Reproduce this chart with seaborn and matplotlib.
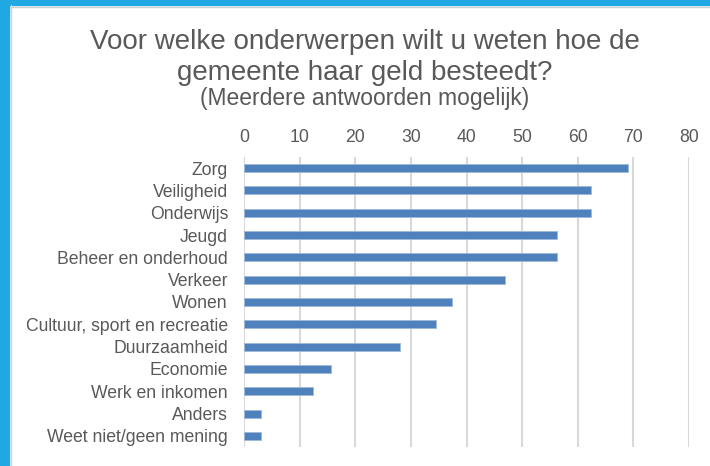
import pandas as pd
import seaborn as sns
import matplotlib.pyplot as plt
from matplotlib.patches import Rectangle
from matplotlib.lines import Line2D

categories = ['Zorg', 'Veiligheid', 'Onderwijs', 'Jeugd', 'Beheer en onderhoud',
              'Verkeer', 'Wonen', 'Cultuur, sport en recreatie', 'Duurzaamheid',
              'Economie', 'Werk en inkomen', 'Anders', 'Weet niet/geen mening']
values = [69, 62.4, 62.4, 56.3, 56.3, 47, 37.4, 34.5, 28.1, 15.6, 12.4, 3.1, 3.1]
ticks = [0, 10, 20, 30, 40, 50, 60, 70, 80]

df = pd.DataFrame({'onderwerp': categories, 'aantal': values})

sns.set_style('white')
plt.rcParams['font.family'] = ['Liberation Sans', 'DejaVu Sans']

fig = plt.figure(figsize=(7.1, 4.66), dpi=100)
ax = fig.add_axes([244 / 710, 1 - 447 / 466, 445 / 710, 290 / 466])

sns.barplot(data=df, x='aantal', y='onderwerp', orient='h', color='#4F81BD',
            saturation=1, width=0.36, edgecolor='#9DB8DA', linewidth=0.6, ax=ax)

ax.set_xlim(0, 80)
ax.set_xticks(ticks)
ax.xaxis.tick_top()
ax.tick_params(axis='both', length=0, colors='#595959', labelsize=12.7)
ax.tick_params(axis='x', pad=8)
ax.tick_params(axis='y', pad=11.5)
ax.set_xlabel('')
ax.set_ylabel('')
ax.grid(axis='x', color='#D9D9D9', linewidth=1.5)
ax.set_axisbelow(True)
for s in ax.spines.values():
    s.set_visible(False)

# frame decoration like the slide
fig.patches.append(Rectangle((0, 0), 9 / 710, 1, transform=fig.transFigure,
                             color='#1FA8E1', zorder=0))
fig.patches.append(Rectangle((0, 1 - 5 / 466), 1, 5 / 466, transform=fig.transFigure,
                             color='#1FA8E1', zorder=0))
fig.lines.append(Line2D([10.5 / 710, 10.5 / 710], [0, 1 - 5 / 466], transform=fig.transFigure,
                        color='#D0D0D0', linewidth=1))
fig.lines.append(Line2D([10 / 710, 1], [1 - 6.5 / 466, 1 - 6.5 / 466], transform=fig.transFigure,
                        color='#D0D0D0', linewidth=1))

fig.text(0.514, 1 - 42 / 466, 'Voor welke onderwerpen wilt u weten hoe de',
         ha='center', va='center', fontsize=20, color='#595959')
fig.text(0.514, 1 - 73 / 466, 'gemeente haar geld besteedt?',
         ha='center', va='center', fontsize=20, color='#595959')
fig.text(0.514, 1 - 99 / 466, '(Meerdere antwoorden mogelijk)',
         ha='center', va='center', fontsize=16.5, color='#595959')

fig.savefig('out.png', dpi=100)
